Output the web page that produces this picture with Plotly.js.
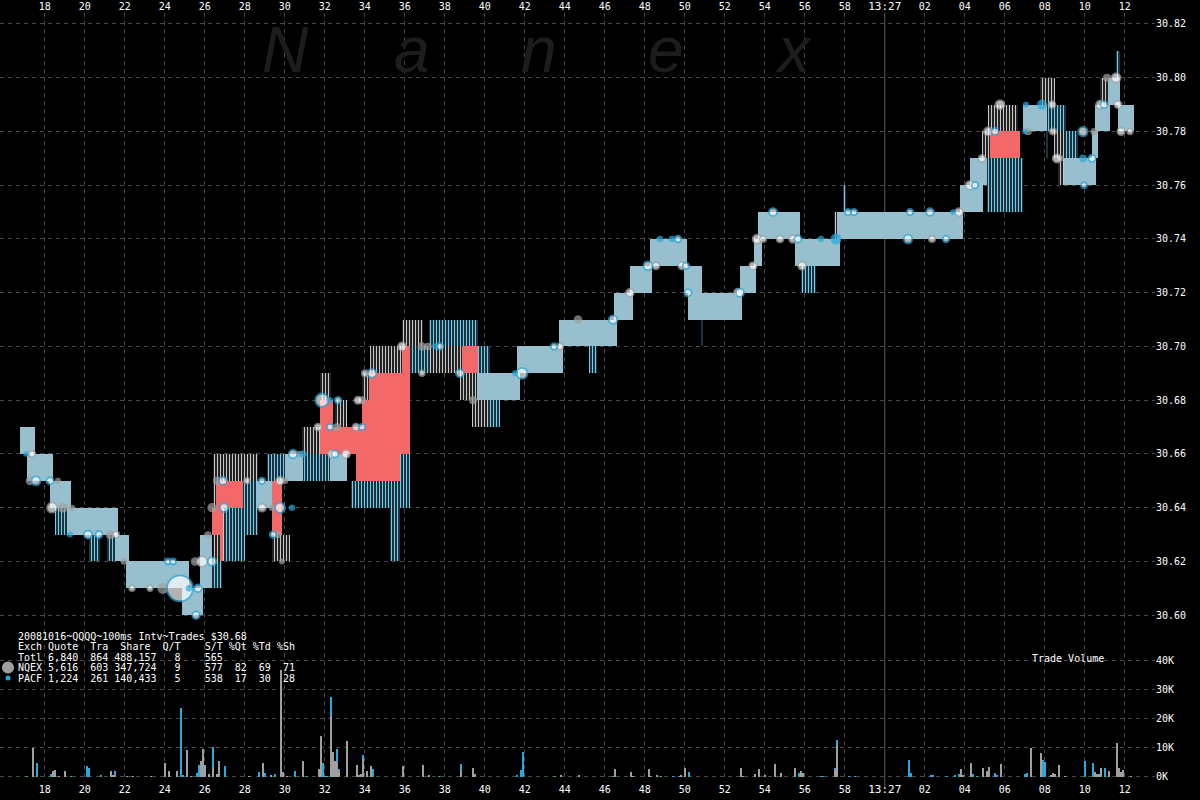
<!DOCTYPE html>
<html>
<head>
<meta charset="utf-8">
<script src="https://cdn.plot.ly/plotly-3.0.1.min.js"></script>
<style>html,body{margin:0;padding:0;background:#000;}#chart{width:1200px;height:800px;}</style>
</head>
<body>
<div id="chart"></div>
<script>
// ---- time axis (seconds after 13:26:00) ----
const xTickVals = [18,20,22,24,26,28,30,32,34,36,38,40,42,44,46,48,50,52,54,56,58,60,62,64,66,68,70,72];
const xTickLabels = ['18','20','22','24','26','28','30','32','34','36','38','40','42','44','46','48','50','52','54','56','58','13:27','02','04','06','08','10','12'];
const priceTickVals = [30.60,30.62,30.64,30.66,30.68,30.70,30.72,30.74,30.76,30.78,30.80,30.82];
const volTickVals = [0,10,20,30,40];
const volTickLabels = ['0K','10K','20K','30K','40K'];

// ---- quote spread blocks (start s, end s, bid, ask) ----
const solidStart = [16.76,17.11,18.26,19.11,21.51,22.06,24.86,25.76,28.61,30.01,32.26,39.61,41.61,43.71,46.46,47.26,48.26,49.96,50.16,52.76,53.46,53.66,55.51,57.61,63.76,64.26,66.91,68.96,70.36,70.51,71.16,71.66];
const solidEnd   = [17.51,18.41,19.31,21.66,22.21,25.21,25.91,26.36,29.36,30.91,33.11,41.76,43.91,46.61,47.41,48.36,50.11,50.86,52.86,53.56,53.86,55.76,57.76,63.91,64.91,65.11,68.11,70.56,70.66,71.26,71.76,72.46];
const solidBid   = [30.66,30.65,30.64,30.63,30.62,30.61,30.60,30.61,30.64,30.65,30.65,30.68,30.69,30.70,30.71,30.72,30.73,30.72,30.71,30.72,30.73,30.74,30.73,30.74,30.75,30.76,30.78,30.76,30.77,30.78,30.79,30.78];
const solidAsk   = [30.67,30.66,30.65,30.64,30.63,30.62,30.61,30.63,30.65,30.66,30.66,30.69,30.70,30.71,30.72,30.73,30.74,30.73,30.72,30.73,30.74,30.75,30.74,30.75,30.76,30.77,30.79,30.77,30.78,30.79,30.80,30.79];

const cyanStart = [18.51,20.21,21.11,25.76,26.96,27.91,29.11,30.91,33.31,35.26,35.76,36.26,37.21,39.66,40.16,45.21,55.81,65.11,68.06,69.01,57.91,50.81,68.06,71.56];
const cyanEnd   = [19.11,20.76,21.51,26.86,28.01,28.66,30.11,32.26,36.26,35.76,36.26,37.26,39.66,40.26,40.76,45.61,56.56,66.91,69.06,69.66,58.06,50.91,68.16,71.76];
const cyanBid   = [30.63,30.62,30.62,30.61,30.62,30.63,30.65,30.65,30.64,30.62,30.65,30.69,30.70,30.69,30.67,30.69,30.72,30.75,30.78,30.77,30.75,30.70,30.77,30.80];
const cyanAsk   = [30.64,30.63,30.63,30.62,30.64,30.65,30.66,30.66,30.65,30.64,30.66,30.70,30.71,30.70,30.68,30.70,30.73,30.77,30.79,30.78,30.76,30.71,30.78,30.81];

const grayStart = [26.41,26.56,29.36,30.86,31.76,32.51,33.86,34.26,35.86,37.26,38.76,39.36,64.86,65.16,67.76,68.46,68.66,70.76,57.46];
const grayEnd   = [27.41,28.66,30.26,31.76,32.31,33.11,34.21,35.86,36.91,38.86,39.66,40.16,65.26,66.66,68.51,69.06,69.01,71.16,57.61];
const grayBid   = [30.62,30.65,30.62,30.66,30.68,30.67,30.68,30.69,30.70,30.69,30.68,30.67,30.77,30.78,30.79,30.77,30.76,30.79,30.74];
const grayAsk   = [30.66,30.66,30.63,30.67,30.69,30.68,30.69,30.70,30.71,30.70,30.69,30.68,30.78,30.79,30.80,30.78,30.77,30.80,30.75];

const redStart = [26.56,26.36,26.76,29.36,31.76,32.41,33.86,34.21,35.86,33.56,38.86,65.26];
const redEnd   = [27.91,26.91,26.91,29.86,32.41,36.26,36.26,36.26,36.26,35.76,39.66,66.76];
const redBid   = [30.64,30.63,30.62,30.63,30.66,30.66,30.67,30.68,30.69,30.65,30.69,30.77];
const redAsk   = [30.65,30.64,30.63,30.65,30.68,30.67,30.68,30.69,30.70,30.66,30.70,30.78];

// ---- trades (time s, price, shares) ----
const pacfOpenT = [17.56,18.26,20.16,20.71,24.76,25.66,25.56,24.16,24.41,26.36,26.96,26.91,28.86,29.76,29.41,30.41,32.26,31.86,32.66,32.51,33.86,34.36,37.76,38.76,41.86,43.46,46.41,48.16,49.66,50.06,50.16,52.76,54.41,55.66,58.16,58.46,61.26,62.26,61.16,63.06,64.51,65.51,69.91,70.36,69.96,70.96];
const pacfOpenP = [30.65,30.65,30.63,30.63,30.61,30.61,30.60,30.62,30.62,30.62,30.64,30.65,30.65,30.64,30.63,30.66,30.67,30.68,30.68,30.66,30.67,30.69,30.70,30.69,30.69,30.70,30.71,30.73,30.74,30.73,30.72,30.72,30.75,30.74,30.75,30.75,30.75,30.75,30.74,30.74,30.76,30.78,30.78,30.77,30.76,30.79];
const pacfOpenS = [800,400,600,400,12000,500,500,200,200,700,700,600,300,1200,300,700,300,2500,300,400,300,800,300,600,1500,300,700,800,300,300,400,600,600,400,300,300,300,500,700,300,300,400,900,400,200,400];

const pacfFillT = [17.06,19.26,25.21,30.36,30.91,32.26,37.51,41.51,48.76,49.36,56.81,57.56,67.06,67.86,69.91,67.01,63.41];
const pacfFillP = [30.66,30.63,30.61,30.64,30.66,30.68,30.70,30.69,30.74,30.74,30.74,30.74,30.79,30.79,30.77,30.78,30.75];
const pacfFillS = [150,200,300,250,400,200,200,200,300,300,250,1500,200,1200,500,150,150];

const nqexFillT = [17.26,18.66,18.91,19.36,21.26,21.96,23.91,25.51,26.16,26.36,26.61,29.36,29.66,30.01,29.86,30.71,32.61,33.86,36.86,37.16,39.41,44.66,67.16,70.46,71.11,68.81];
const nqexFillP = [30.65,30.65,30.64,30.64,30.63,30.62,30.61,30.62,30.63,30.64,30.65,30.64,30.63,30.65,30.62,30.66,30.67,30.68,30.70,30.70,30.68,30.71,30.78,30.78,30.80,30.77];
const nqexFillS = [700,200,1000,200,800,300,1500,700,300,900,600,300,400,300,200,300,600,600,700,500,600,700,500,400,600,200];

const nqexOpenT = [17.36,18.36,21.56,22.36,23.26,25.86,28.11,28.86,29.76,31.66,32.36,33.06,33.56,33.66,34.01,35.86,36.86,43.76,47.26,48.56,49.86,52.66,53.41,53.61,53.91,54.76,55.41,55.86,62.36,63.71,64.26,64.86,65.16,65.76,68.36,68.41,68.61,70.76,71.56,71.66,71.81,72.26];
const nqexOpenP = [30.66,30.64,30.63,30.61,30.61,30.62,30.65,30.64,30.65,30.67,30.66,30.66,30.67,30.68,30.69,30.70,30.69,30.70,30.72,30.73,30.73,30.72,30.73,30.74,30.74,30.74,30.74,30.73,30.74,30.75,30.76,30.77,30.78,30.79,30.79,30.78,30.77,30.79,30.80,30.79,30.78,30.78];
const nqexOpenS = [300,1200,300,200,200,1300,200,600,600,400,600,700,400,500,300,700,200,300,600,400,500,700,500,800,300,400,600,600,300,600,800,400,700,900,400,300,800,600,900,500,500,200];

// ---- trade volume (time s, thousands of shares) ----
const pacfVolT = [17.1,17.6,18.3,19.3,20.1,20.2,20.8,21.5,24.8,24.9,25.6,25.7,26.4,27.0,28.7,29.0,29.5,30.5,31.1,31.9,32.0,32.1,32.3,32.6,32.7,33.9,34.4,37.7,38.8,41.6,41.8,41.9,43.5,46.4,48.8,49.4,49.7,50.0,50.2,55.7,56.8,56.9,57.5,57.6,58.2,58.5,61.2,61.3,62.3,62.4,63.1,63.5,63.7,64.4,64.6,65.5,65.6,67.0,67.1,67.9,68.0,70.0,70.4,71.0];
const pacfVolK = [0.3,4.8,1.0,0.2,3.8,3.0,0.5,2.0,23.8,0.5,1.2,4.1,10.3,3.6,1.5,1.2,0.9,2.0,0.3,4.8,0.2,0.2,27.6,9.7,2.5,7.4,2.6,0.2,4.3,0.5,2.3,8.4,0.2,0.2,0.2,0.2,0.3,1.0,1.5,1.2,0.2,0.2,2.9,12.6,0.2,0.2,5.6,1.3,0.6,0.6,0.2,0.7,1.0,0.9,0.2,1.4,0.5,0.8,1.4,5.8,5.0,5.4,4.6,3.0];
const nqexVolT = [17.4,18.4,18.5,18.7,19.0,21.3,21.4,21.5,22.1,22.4,23.3,24.0,24.2,24.6,25.1,25.3,25.8,25.9,26.0,26.2,26.4,26.6,26.7,28.2,28.9,29.3,29.8,29.9,30.1,30.9,31.7,31.8,32.3,32.4,32.5,32.6,32.7,33.1,33.6,33.7,33.8,33.9,34.1,34.3,35.9,36.9,37.2,38.8,39.4,39.5,43.8,44.7,46.5,47.3,47.4,48.2,48.3,48.6,49.8,50.0,52.8,52.9,53.5,53.7,54.0,54.5,54.8,55.5,55.8,55.9,57.5,57.6,63.8,63.9,64.3,64.9,65.1,65.2,65.8,67.3,67.8,68.3,68.4,68.5,68.7,69.0,70.5,70.6,70.7,70.8,71.2,71.6,71.7,71.8,71.9,72.3];
const nqexVolK = [9.9,1.8,2.2,0.2,2.0,2.0,0.5,0.7,0.2,0.2,0.2,4.8,2.0,2.0,9.3,0.2,5.5,9.7,4.1,1.0,3.3,1.0,5.3,0.2,4.6,0.6,37.0,1.5,0.3,5.3,2.5,13.9,21.0,8.4,5.3,5.0,2.0,12.4,4.0,0.5,0.8,6.0,2.0,3.6,3.6,3.9,0.5,2.0,3.0,0.8,0.6,0.7,2.6,1.5,0.3,2.6,0.3,0.5,0.5,3.1,3.1,0.3,0.9,2.5,0.5,4.3,1.4,2.9,1.8,1.2,2.4,10.5,2.5,0.5,4.8,3.0,1.8,3.2,4.3,9.8,8.2,0.5,1.3,1.0,4.0,0.2,1.5,1.0,1.0,3.0,1.8,11.8,3.0,1.5,2.2,0.2];

// ---- summary table ----
const summaryLines = [
  '20081016~QQQQ~100ms Intv~Trades $30.68',
  'Exch Quote  Tra  Share  Q/T    S/T %Qt %Td %Sh',
  'Totl 6,840  864 488,157   8    565',
  'NQEX 5,616  603 347,724   9    577  82  69  71',
  'PACF 1,224  261 140,433   5    538  17  30  28'
];

// ================= drawing =================
const CYAN = '#2aa9de', GRAY = '#a0a0a0';
const PLOT_W = 1155, PLOT_TOP = 13, PLOT_BOT = 782, PLOT_H = PLOT_BOT - PLOT_TOP;
const px = v => v / PLOT_W;
const py = v => (PLOT_BOT - v) / PLOT_H;

function blockTrace(s, e, lo, hi, marker) {
  return {
    type: 'bar', xaxis: 'x', yaxis: 'y', hoverinfo: 'skip',
    x: s.map((v, i) => (v + e[i]) / 2),
    width: s.map((v, i) => e[i] - v),
    base: lo,
    y: hi.map((v, i) => v - lo[i]),
    marker: Object.assign({line: {width: 0}}, marker)
  };
}
const tradeSize = s => s.map(v => 3 + 2.1 * Math.sqrt(v / 100));
function tradeTrace(t, p, s, fill, lineColor, lineW) {
  return {
    type: 'scatter', mode: 'markers', xaxis: 'x', yaxis: 'y', hoverinfo: 'skip',
    x: t, y: p,
    marker: {size: tradeSize(s), color: fill, line: {color: lineColor, width: lineW}}
  };
}
function volTrace(t, v, color) {
  return {type: 'bar', xaxis: 'x', yaxis: 'y2', hoverinfo: 'skip', x: t, y: v,
    width: t.map(() => 0.09), marker: {color: color, line: {width: 0}}};
}

const traces = [
  blockTrace(grayStart, grayEnd, grayBid, grayAsk,
    {color: '#000', pattern: {shape: '|', fgcolor: '#c8c8c8', bgcolor: '#000', size: 3, solidity: 0.45, fillmode: 'replace'}}),
  blockTrace(cyanStart, cyanEnd, cyanBid, cyanAsk,
    {color: '#000', pattern: {shape: '|', fgcolor: '#74cdee', bgcolor: '#000', size: 3, solidity: 0.5, fillmode: 'replace'}}),
  blockTrace(solidStart, solidEnd, solidBid, solidAsk,
    {color: '#a8c0c8', pattern: {shape: '|', fgcolor: '#6ab8d4', bgcolor: '#c6c6c6', size: 2, solidity: 0.5, fillmode: 'replace'}}),
  blockTrace(redStart, redEnd, redBid, redAsk, {color: '#f36868'}),
  volTrace(pacfVolT, pacfVolK, CYAN),
  volTrace(nqexVolT, nqexVolK, GRAY),
  tradeTrace(nqexFillT, nqexFillP, nqexFillS, GRAY, GRAY, 0),
  tradeTrace(nqexOpenT, nqexOpenP, nqexOpenS, '#ffffff', GRAY, 1.5),
  tradeTrace(pacfOpenT, pacfOpenP, pacfOpenS, '#ffffff', CYAN, 1.8),
  tradeTrace(pacfFillT, pacfFillP, pacfFillS, CYAN, CYAN, 0),
  {type: 'scatter', mode: 'markers', xaxis: 'x2', yaxis: 'y', x: [xTickVals[0]], y: [priceTickVals[0]],
   marker: {size: 1, opacity: 0}, hoverinfo: 'skip'}
];

const gridStyle = {gridcolor: '#474747', griddash: '4px,4px', gridwidth: 1};
const tickFont = {family: 'DejaVu Sans Mono', size: 10, color: '#ffffff'};
const xTickText = xTickLabels.map(s => s.indexOf(':') >= 0 ? '<span style="font-size:11px">' + s + '</span>' : s);

const annotations = [];
['N', 'a', 'n', 'e', 'x'].forEach((ch, i) => {
  annotations.push({xref: 'paper', yref: 'paper', x: px(285 + i * 127), y: py(50),
    xanchor: 'center', yanchor: 'middle', showarrow: false, text: ch,
    font: {family: 'Liberation Sans', size: 64, color: '#1d1d1d', style: 'italic'}});
});
const lineY = [636, 646.5, 657, 667.5, 678];
summaryLines.forEach((s, i) => {
  annotations.push({xref: 'paper', yref: 'paper', x: px(16), y: py(lineY[i]),
    xanchor: 'left', yanchor: 'middle', showarrow: false, text: s.replace(/ /g, '&nbsp;'),
    font: {family: 'DejaVu Sans Mono', size: 10, color: '#ffffff'}});
});
annotations.push({xref: 'paper', yref: 'paper', x: px(1068), y: py(658),
  xanchor: 'center', yanchor: 'middle', showarrow: false, text: 'Trade Volume',
  font: {family: 'DejaVu Sans Mono', size: 10, color: '#ffffff'}});

const shapes = [
  {type: 'line', xref: 'x', yref: 'paper', x0: 60, x1: 60, y0: -0.008, y1: 1,
   line: {color: '#5a5a5a', width: 1}, layer: 'below'},
  {type: 'circle', xref: 'paper', yref: 'paper', xsizemode: 'pixel', ysizemode: 'pixel',
   xanchor: px(8), yanchor: py(667.5), x0: -6, x1: 6, y0: -6, y1: 6,
   fillcolor: GRAY, line: {width: 0}},
  {type: 'circle', xref: 'paper', yref: 'paper', xsizemode: 'pixel', ysizemode: 'pixel',
   xanchor: px(8), yanchor: py(678), x0: -2.5, x1: 2.5, y0: -2.5, y1: 2.5,
   fillcolor: CYAN, line: {width: 0}}
];

const layout = {
  width: 1200, height: 800,
  paper_bgcolor: '#000', plot_bgcolor: '#000',
  margin: {l: 0, r: 45, t: PLOT_TOP, b: 800 - PLOT_BOT, pad: 0},
  showlegend: false, barmode: 'overlay', bargap: 0,
  font: {family: 'DejaVu Sans Mono', color: '#ffffff', size: 10},
  xaxis: Object.assign({range: [15.76, 73.51], tickvals: xTickVals, ticktext: xTickText,
    showgrid: true, zeroline: false, showline: false, ticks: '', tickfont: tickFont, side: 'bottom'}, gridStyle),
  xaxis2: {overlaying: 'x', matches: 'x', side: 'top', tickvals: xTickVals, ticktext: xTickText,
    showgrid: false, zeroline: false, showline: false, ticks: '', tickfont: tickFont},
  yaxis: Object.assign({side: 'right', range: [30.53794, 30.82409], tickvals: priceTickVals,
    ticktext: priceTickVals.map(v => v.toFixed(2)), zeroline: false, showline: false, ticks: '',
    tickfont: tickFont, showgrid: true}, gridStyle),
  yaxis2: Object.assign({overlaying: 'y', side: 'right', range: [-1.828, 263.69], tickvals: volTickVals,
    ticktext: volTickLabels, zeroline: false, showline: false, ticks: '', tickfont: tickFont, showgrid: true}, gridStyle),
  annotations: annotations,
  shapes: shapes
};

Plotly.newPlot('chart', traces, layout, {displayModeBar: false, staticPlot: true});
</script>
</body>
</html>
